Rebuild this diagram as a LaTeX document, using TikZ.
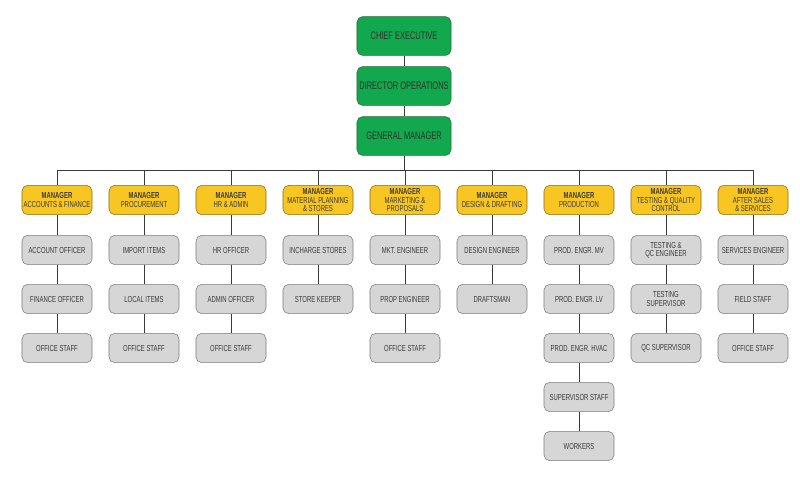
\documentclass[tikz,border=0pt]{standalone}
\usepackage{fontspec}
\newfontfamily\chartfont{Liberation Sans}[FakeStretch=0.68]
\usepackage{tikz}
\usetikzlibrary{positioning}
\usepackage{xcolor}
\definecolor{boardgreen}{HTML}{12A84E}
\definecolor{boardgreenline}{HTML}{2B6B3A}
\definecolor{mgryellow}{HTML}{F8C623}
\definecolor{mgryellowline}{HTML}{8A6A1C}
\definecolor{staffgrey}{HTML}{D6D6D6}
\definecolor{staffgreyline}{HTML}{7E7E7E}
\definecolor{inkgrey}{HTML}{3A3A3A}
\tikzset{
  topbox/.style={rectangle, rounded corners=4pt, draw=boardgreenline, fill=boardgreen,
                 thin, minimum width=2.35cm, minimum height=0.97cm, inner sep=1pt,
                 text=inkgrey!80!black, font=\chartfont\fontsize{7.8}{7.8}\selectfont},
  mgrbox/.style={rectangle, rounded corners=4pt, draw=mgryellowline, fill=mgryellow,
                 thin, minimum width=1.75cm, minimum height=0.73cm, inner sep=1pt,
                 align=center, text=inkgrey, font=\chartfont\fontsize{6.2}{5.9}\selectfont},
  staffbox/.style={rectangle, rounded corners=4pt, draw=staffgreyline, fill=staffgrey,
                 thin, minimum width=1.75cm, minimum height=0.73cm, inner sep=1pt,
                 align=center, text=inkgrey, font=\chartfont\fontsize{6.2}{5.9}\selectfont},
  link/.style={draw=inkgrey, line width=0.6pt},
}
\newcommand{\mgr}[1]{\textbf{MANAGER}\\#1}

\begin{document}
\begin{tikzpicture}[x=0.025cm, y=-0.025cm]
    \useasboundingbox (0,0) rectangle (800,480);
    % Board
    \node[topbox] (ceo) at (404,36)  {CHIEF EXECUTIVE};
    \node[topbox] (dir) at (404,86)  {DIRECTOR OPERATIONS};
    \node[topbox] (gm)  at (404,136) {GENERAL MANAGER};
    \coordinate (bus) at (404,170);
    % Managers
    \node[mgrbox] (acc)  at (57,200)  {\mgr{ACCOUNTS \& FINANCE}};
    \node[mgrbox] (proc) at (144,200) {\mgr{PROCUREMENT}};
    \node[mgrbox] (hr)   at (231,200) {\mgr{HR \& ADMIN}};
    \node[mgrbox] (mat)  at (318,200) {\mgr{MATERIAL PLANNING\\\& STORES}};
    \node[mgrbox] (mkt)  at (405,200) {\mgr{MARKETING \&\\PROPOSALS}};
    \node[mgrbox] (des)  at (492,200) {\mgr{DESIGN \& DRAFTING}};
    \node[mgrbox] (prod) at (579,200) {\mgr{PRODUCTION}};
    \node[mgrbox] (test) at (666,200) {\mgr{TESTING \& QUALITY\\CONTROL}};
    \node[mgrbox] (aft)  at (753,200) {\mgr{AFTER SALES\\\& SERVICES}};
    % Staff
    \node[staffbox] (acc1) at (57,250) {ACCOUNT OFFICER};
    \node[staffbox] (acc2) at (57,299) {FINANCE OFFICER};
    \node[staffbox] (acc3) at (57,348) {OFFICE STAFF};
    \node[staffbox] (proc1) at (144,250) {IMPORT ITEMS};
    \node[staffbox] (proc2) at (144,299) {LOCAL ITEMS};
    \node[staffbox] (proc3) at (144,348) {OFFICE STAFF};
    \node[staffbox] (hr1) at (231,250) {HR OFFICER};
    \node[staffbox] (hr2) at (231,299) {ADMIN OFFICER};
    \node[staffbox] (hr3) at (231,348) {OFFICE STAFF};
    \node[staffbox] (mat1) at (318,250) {INCHARGE STORES};
    \node[staffbox] (mat2) at (318,299) {STORE KEEPER};
    \node[staffbox] (mkt1) at (405,250) {MKT. ENGINEER};
    \node[staffbox] (mkt2) at (405,299) {PROP ENGINEER};
    \node[staffbox] (mkt3) at (405,348) {OFFICE STAFF};
    \node[staffbox] (des1) at (492,250) {DESIGN ENGINEER};
    \node[staffbox] (des2) at (492,299) {DRAFTSMAN};
    \node[staffbox] (prod1) at (579,250) {PROD. ENGR. MV};
    \node[staffbox] (prod2) at (579,299) {PROD. ENGR. LV};
    \node[staffbox] (prod3) at (579,348) {PROD. ENGR. HVAC};
    \node[staffbox] (prod4) at (579,397) {SUPERVISOR STAFF};
    \node[staffbox] (prod5) at (579,446) {WORKERS};
    \node[staffbox] (test1) at (666,250) {TESTING \&\\QC ENGINEER};
    \node[staffbox] (test2) at (666,299) {TESTING\\SUPERVISOR};
    \node[staffbox] (test3) at (666,348) {QC SUPERVISOR};
    \node[staffbox] (aft1) at (753,250) {SERVICES ENGINEER};
    \node[staffbox] (aft2) at (753,299) {FIELD STAFF};
    \node[staffbox] (aft3) at (753,348) {OFFICE STAFF};
    % Links
    \draw[link] (ceo) -- (dir) -- (gm) -- (bus);
    \foreach \m in {acc,proc,hr,mat,mkt,des,prod,test,aft}
      \draw[link] (bus) -| (\m.north);
    \draw[link] (acc) -- (acc1) -- (acc2) -- (acc3);
    \draw[link] (proc) -- (proc1) -- (proc2) -- (proc3);
    \draw[link] (hr) -- (hr1) -- (hr2) -- (hr3);
    \draw[link] (mat) -- (mat1) -- (mat2);
    \draw[link] (mkt) -- (mkt1) -- (mkt2) -- (mkt3);
    \draw[link] (des) -- (des1) -- (des2);
    \draw[link] (prod) -- (prod1) -- (prod2) -- (prod3) -- (prod4) -- (prod5);
    \draw[link] (test) -- (test1) -- (test2) -- (test3);
    \draw[link] (aft) -- (aft1) -- (aft2) -- (aft3);
  \end{tikzpicture}
\end{document}
